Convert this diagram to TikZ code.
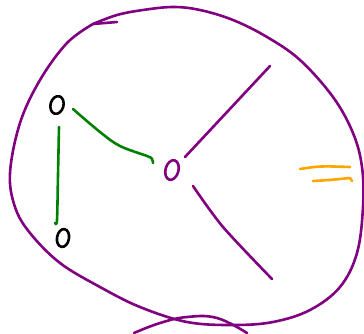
\documentclass[tikz,border=0pt]{standalone}
\usetikzlibrary{shapes.geometric}
\definecolor{penpurple}{RGB}{128,0,128}
\definecolor{pengreen}{RGB}{0,128,0}
\definecolor{penorange}{RGB}{255,165,0}
\tikzset{
  pen/.style={line width=2.6pt, line cap=round, line join=round},
  zero/.style={draw, ellipse, pen, inner sep=0pt},
}
\begin{document}
\begin{tikzpicture}[x=1pt,y=-1pt]
\useasboundingbox (0,0) rectangle (364,333);
% big loop
\draw[pen, penpurple] plot[smooth, tension=0.6] coordinates {
 (93,24) (117,15) (143,10) (173,7) (200,10) (233,20) (267,37) (300,60) (333,97)
 (353,133) (362,167) (363,207) (357,253) (340,287) (310,310) (273,322) (233,325)
 (187,322) (140,307) (100,287) (60,263) (30,233) (15,207) (10,173) (20,123)
 (40,80) (67,43) (93,24)};
\draw[pen, penpurple] (93,24) -- (117,22);
% bottom arc
\draw[pen, penpurple] plot[smooth, tension=0.7] coordinates {
 (134,333) (160,323) (187,317) (217,318) (247,333)};
% nodes
\node[zero, black, minimum width=13pt, minimum height=18pt, rotate=-15] (a) at (57,105) {};
\node[zero, black, minimum width=12pt, minimum height=18pt, rotate=-10] (b) at (63,238) {};
\node[zero, penpurple, minimum width=13pt, minimum height=20pt, rotate=-15] (c) at (172,170) {};
% connectors
\coordinate (a1) at (73,109);
\coordinate (c1) at (153,163);
\coordinate (a2) at (59,127);
\coordinate (b1) at (57,223);
\coordinate (c2) at (185,157);
\coordinate (ur) at (270,66);
\coordinate (c3) at (193,186);
\coordinate (lr) at (272,279);
\draw[pen, pengreen] plot[smooth, tension=0.6] coordinates {(a1) (100,132) (120,146) (147,156) (152,159) (c1)};
\draw[pen, pengreen] plot[smooth] coordinates {(a2) (58,175) (57,220) (55,223)};
\draw[pen, penpurple] (c2) -- (ur);
\draw[pen, penpurple] plot[smooth, tension=0.5] coordinates {(c3) (223,227) (lr)};
% orange marks
\draw[pen, penorange] (300,169) .. controls (320,166) .. (350,167);
\draw[pen, penorange] (313,181) .. controls (330,180) .. (350,178) -- (352,181);
\end{tikzpicture}
\end{document}
